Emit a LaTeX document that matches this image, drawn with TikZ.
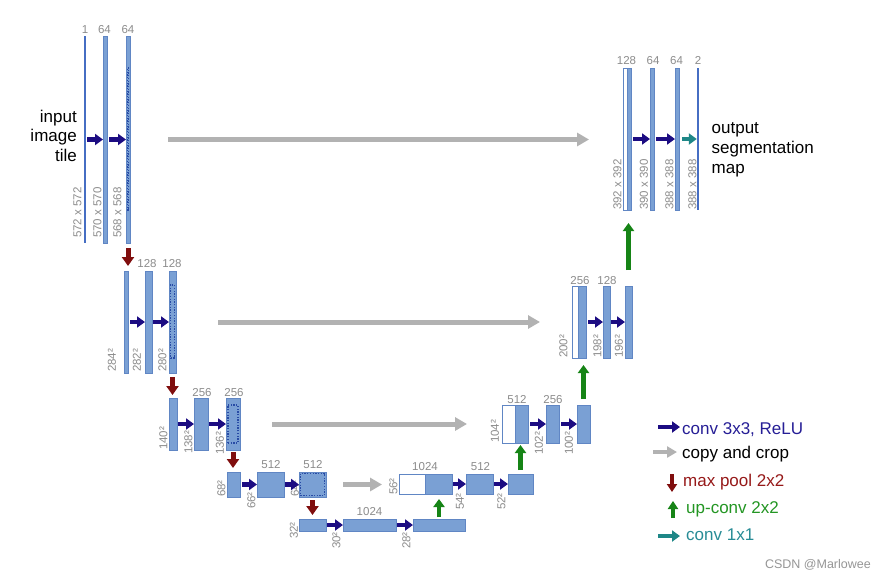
\documentclass[tikz,border=0pt]{standalone}
\usepackage{fontspec}
\setmainfont{Liberation Sans}
\usetikzlibrary{arrows.meta}
\definecolor{barfill}{RGB}{122,160,212}
\definecolor{bardraw}{RGB}{96,134,196}
\definecolor{thinc}{RGB}{70,110,195}
\definecolor{convc}{RGB}{28,12,130}
\definecolor{copyc}{RGB}{178,178,178}
\definecolor{poolc}{RGB}{128,14,14}
\definecolor{upc}{RGB}{22,132,22}
\definecolor{onec}{RGB}{30,135,135}
\definecolor{lblc}{RGB}{140,140,140}
\definecolor{cropc}{RGB}{40,75,165}
\definecolor{convtxt}{RGB}{38,30,150}
\definecolor{pooltxt}{RGB}{150,25,25}
\definecolor{uptxt}{RGB}{35,150,35}
\definecolor{onetxt}{RGB}{40,140,150}
\definecolor{marktxt}{RGB}{150,150,150}
\newcommand\mkbar[6]{%
  \pgfmathsetmacro\ubW{#4-#3}\pgfmathsetmacro\ubH{#6-#5}%
  \pgfmathsetmacro\ubX{(#3+#4)/2}\pgfmathsetmacro\ubY{(#5+#6)/2}%
  \node[#1, minimum width=\ubW pt, minimum height=\ubH pt] (#2) at (\ubX,\ubY) {};}
\tikzset{
  bar/.style={rectangle, draw=bardraw, fill=barfill, line width=0.7pt, inner sep=0pt, outer sep=0pt},
  wbar/.style={bar, fill=white},
  thinbar/.style={rectangle, fill=thinc, inner sep=0pt, outer sep=0pt},
  crop/.style={rectangle, draw=cropc, line width=1.1pt, dash pattern=on 1.3pt off 1.4pt, inner sep=0pt, outer sep=0pt},
  conv/.style={draw=convc, line width=4.5pt, -{Triangle[length=8pt,width=11pt]}},
  copy/.style={draw=copyc, line width=5pt, -{Triangle[length=12pt,width=13pt]}},
  pool/.style={draw=poolc, line width=5pt, -{Triangle[length=9pt,width=12pt]}},
  upconv/.style={draw=upc, line width=4.5pt, -{Triangle[length=8pt,width=11pt]}},
  one/.style={draw=onec, line width=4.5pt, -{Triangle[length=8pt,width=11pt]}},
  lbl/.style={text=lblc, inner sep=0pt, font=\fontsize{11.5}{13}\selectfont, anchor=base},
  vlbl/.style={text=lblc, inner sep=0pt, font=\fontsize{11.5}{13}\selectfont, rotate=90, anchor=west},
  big/.style={inner sep=0pt, font=\fontsize{17}{20}\selectfont},
  legtxt/.style={inner sep=0pt, font=\fontsize{17}{20}\selectfont, anchor=base west},
}
\begin{document}
\begin{tikzpicture}[x=1pt,y=-1pt]
\fill[white] (0,0) rectangle (886,579);
\useasboundingbox (0,0) rectangle (886,579);

% ---------- contracting path ----------
\mkbar{thinbar}{L1a}{84.3}{85.7}{36}{243}
\mkbar{bar}{L1b}{103}{107}{36}{243}
\mkbar{bar}{L1c}{126}{130}{36}{243}
\mkbar{crop}{C1}{127.3}{128.7}{68}{210}

\mkbar{bar}{L2a}{124}{128}{271}{373}
\mkbar{bar}{L2b}{145}{152}{271}{373}
\mkbar{bar}{L2c}{169}{176}{271}{373}
\mkbar{crop}{C2}{170.5}{174.5}{285}{358}

\mkbar{bar}{L3a}{169}{177}{398}{450}
\mkbar{bar}{L3b}{194}{208}{398}{450}
\mkbar{bar}{L3c}{226}{240}{398}{450}
\mkbar{crop}{C3}{228}{238}{405}{443}

\mkbar{bar}{L4a}{227}{240}{472}{497}
\mkbar{bar}{L4b}{257}{284}{472}{497}
\mkbar{bar}{L4c}{299}{326}{472}{497}
\mkbar{crop}{C4}{300.5}{324.5}{473.5}{495.5}

\mkbar{bar}{L5a}{299}{326}{519}{531}
\mkbar{bar}{L5b}{343}{396}{519}{531}
\mkbar{bar}{L5c}{413}{465}{519}{531}

% ---------- expanding path ----------
\mkbar{wbar}{U4w}{399}{425}{474}{494}
\mkbar{bar}{U4a}{425}{452}{474}{494}
\mkbar{bar}{U4b}{466}{493}{474}{494}
\mkbar{bar}{U4c}{508}{533}{474}{494}

\mkbar{wbar}{U3w}{502}{515}{405}{443}
\mkbar{bar}{U3a}{515}{528}{405}{443}
\mkbar{bar}{U3b}{546}{559}{405}{443}
\mkbar{bar}{U3c}{577}{590}{405}{443}

\mkbar{wbar}{U2w}{572}{578}{286}{358}
\mkbar{bar}{U2a}{578}{586}{286}{358}
\mkbar{bar}{U2b}{603}{610}{286}{358}
\mkbar{bar}{U2c}{625}{632}{286}{358}

\mkbar{wbar}{U1w}{623}{627}{68}{210}
\mkbar{bar}{U1a}{627}{631}{68}{210}
\mkbar{bar}{U1b}{650}{654}{68}{210}
\mkbar{bar}{U1c}{675}{679}{68}{210}
\mkbar{thinbar}{U1d}{697.3}{698.7}{68}{210}

% ---------- channel labels ----------
\node[lbl] (t11) at (85,33) {1};
\node[lbl] (t12) at (104.5,33) {64};
\node[lbl] (t13) at (128,33) {64};
\node[lbl] (t22) at (147,267) {128};
\node[lbl] (t23) at (172,267) {128};
\node[lbl] (t32) at (202,396) {256};
\node[lbl] (t33) at (234,396) {256};
\node[lbl] (t42) at (271,468) {512};
\node[lbl] (t43) at (313,468) {512};
\node[lbl] (t52) at (369.5,515) {1024};
\node[lbl] (u41) at (425,470) {1024};
\node[lbl] (u42) at (480.5,470) {512};
\node[lbl] (u31) at (517,403) {512};
\node[lbl] (u32) at (553,403) {256};
\node[lbl] (u21) at (580,284) {256};
\node[lbl] (u22) at (607,284) {128};
\node[lbl] (u11) at (626.5,64) {128};
\node[lbl] (u12) at (653,64) {64};
\node[lbl] (u13) at (676.5,64) {64};
\node[lbl] (u14) at (698,64) {2};

% ---------- size labels ----------
\node[vlbl] (s11) at (77.5,238) {572 x 572};
\node[vlbl] (s12) at (97.5,238) {570 x 570};
\node[vlbl] (s13) at (117.5,238) {568 x 568};
\node[vlbl] (s21) at (112,372) {284²};
\node[vlbl] (s22) at (137,372) {282²};
\node[vlbl] (s23) at (162.5,372) {280²};
\node[vlbl] (s31) at (163.5,450) {140²};
\node[vlbl] (s32) at (188.5,454) {138²};
\node[vlbl] (s33) at (220,455) {136²};
\node[vlbl] (s41) at (221.5,497) {68²};
\node[vlbl] (s42) at (251.5,509) {66²};
\node[vlbl] (s43) at (295,497) {64²};
\node[vlbl] (s51) at (294,539) {32²};
\node[vlbl] (s52) at (336.5,549) {30²};
\node[vlbl] (s53) at (406.5,549) {28²};
\node[vlbl] (r41) at (393.5,495) {56²};
\node[vlbl] (r42) at (460,510) {54²};
\node[vlbl] (r43) at (501.5,510) {52²};
\node[vlbl] (r31) at (495,443) {104²};
\node[vlbl] (r32) at (539,455) {102²};
\node[vlbl] (r33) at (569,455) {100²};
\node[vlbl] (r21) at (563.5,358) {200²};
\node[vlbl] (r22) at (597.5,358) {198²};
\node[vlbl] (r23) at (619,358) {196²};
\node[vlbl] (r11) at (617.5,210) {392 x 392};
\node[vlbl] (r12) at (644,210) {390 x 390};
\node[vlbl] (r13) at (669.5,210) {388 x 388};
\node[vlbl] (r14) at (692.5,210) {388 x 388};

% ---------- texts ----------
\node[big, anchor=base east] (in1) at (77,122) {input};
\node[big, anchor=base east] (in2) at (77,141.5) {image};
\node[big, anchor=base east] (in3) at (77,161) {tile};
\node[big, anchor=base west] (out1) at (711.5,133) {output};
\node[big, anchor=base west] (out2) at (711.5,153) {segmentation};
\node[big, anchor=base west] (out3) at (711.5,173) {map};

% ---------- conv arrows ----------
\draw[conv, shorten <=1.5pt] (L1a.east) -- (L1b.west);
\draw[conv, shorten <=2pt] (L1b.east) -- (L1c.west);
\draw[conv, shorten <=2pt] (L2a.east) -- (L2b.west);
\draw[conv, shorten <=1pt] (L2b.east) -- (L2c.west);
\draw[conv, shorten <=1pt] (L3a.east) -- (L3b.west);
\draw[conv, shorten <=1pt] (L3b.east) -- (L3c.west);
\draw[conv, shorten <=2pt] (L4a.east) -- (L4b.west);
\draw[conv, shorten <=1pt] (L4b.east) -- (L4c.west);
\draw[conv, shorten <=1pt] (L5a.east) -- (L5b.west);
\draw[conv, shorten <=1pt] (L5b.east) -- (L5c.west);
\draw[conv, shorten <=1pt] (U4a.east) -- (U4b.west);
\draw[conv, shorten <=1pt] (U4b.east) -- (U4c.west);
\draw[conv, shorten <=2pt] (U3a.east) -- (U3b.west);
\draw[conv, shorten <=2pt] (U3b.east) -- (U3c.west);
\draw[conv, shorten <=2pt] (U2a.east) -- (U2b.west);
\draw[conv, shorten <=1pt] (U2b.east) -- (U2c.west);
\draw[conv, shorten <=2pt] (U1a.east) -- (U1b.west);
\draw[conv, shorten <=2pt] (U1b.east) -- (U1c.west);
\draw[one, shorten <=3pt, shorten >=0.5pt] (U1c.east) -- (U1d.west);

% ---------- copy and crop ----------
\draw[copy, shorten <=38pt, shorten >=34pt] (L1c.east) -- (L1c.east -| U1w.west);
\draw[copy, shorten <=42pt, shorten >=32pt] (L2c.east) -- (L2c.east -| U2w.west);
\draw[copy, shorten <=32pt, shorten >=35pt] (L3c.east) -- (L3c.east -| U3w.west);
\draw[copy, shorten <=17pt, shorten >=17pt] (L4c.east) -- (L4c.east -| U4w.west);

% ---------- max pool ----------
\draw[pool, shorten <=5pt, shorten >=5pt] (L1c.south) -- (L1c.south |- L2a.north);
\draw[pool, shorten <=4pt, shorten >=3pt] (L2c.south) -- (L2c.south |- L3a.north);
\draw[pool, shorten <=2pt, shorten >=4pt] (L3c.south) -- (L3c.south |- L4a.north);
\draw[pool, shorten <=3pt, shorten >=4pt] (L4c.south) -- (L4c.south |- L5a.north);

% ---------- up-conv ----------
\draw[upconv, shorten <=2pt, shorten >=5pt] (L5c.north) -- (L5c.north |- U4a.south);
\draw[upconv, shorten <=4pt, shorten >=2pt] (U4c.north) -- (U4c.north |- U3a.south);
\draw[upconv, shorten <=6pt, shorten >=7pt] (U3c.north) -- (U3c.north |- U2c.south);
\draw[upconv, shorten <=16pt, shorten >=13pt] (U2c.north) -- (U2c.north |- U1a.south);

% ---------- legend ----------
\node[legtxt, text=convtxt] (lg1) at (682,434) {conv 3x3, ReLU};
\node[legtxt, text=black] (lg2) at (682,458) {copy and crop};
\node[legtxt, text=pooltxt] (lg3) at (683,486) {max pool 2x2};
\node[legtxt, text=uptxt] (lg4) at (686,513) {up-conv 2x2};
\node[legtxt, text=onetxt] (lg5) at (686,540) {conv 1x1};
\coordinate (la1) at (658,427);
\coordinate (lb1) at (680,427);
\draw[conv] (la1) -- (lb1);
\coordinate (la2) at (653,452);
\coordinate (lb2) at (677,452);
\draw[copy, line width=4.5pt, -{Triangle[length=10pt,width=11pt]}] (la2) -- (lb2);
\coordinate (la3) at (672,474);
\coordinate (lb3) at (672,492);
\draw[pool, line width=4.5pt, -{Triangle[length=8pt,width=10pt]}] (la3) -- (lb3);
\coordinate (la4) at (673,518);
\coordinate (lb4) at (673,501);
\draw[upconv, -{Triangle[length=8pt,width=10pt]}] (la4) -- (lb4);
\coordinate (la5) at (658,536);
\coordinate (lb5) at (680,536);
\draw[one] (la5) -- (lb5);
\node[inner sep=0pt, anchor=base east, text=marktxt, font=\fontsize{12.5}{15}\selectfont] (mark) at (871,568) {CSDN @Marlowee};
\end{tikzpicture}
\end{document}
